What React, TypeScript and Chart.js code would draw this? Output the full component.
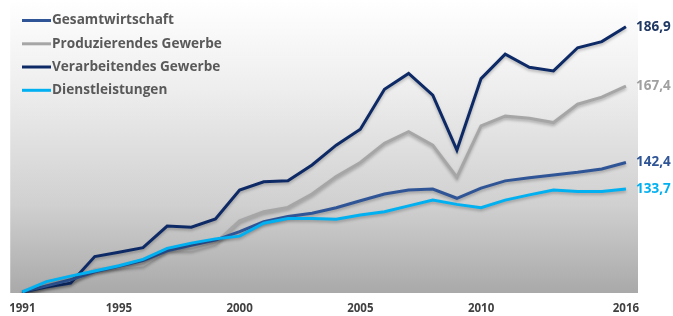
import React, { useEffect, useRef } from "react";
import { Chart, registerables } from "chart.js";
Chart.register(...registerables);

const years = ["1991","1992","1993","1994","1995","1996","1997","1998","1999","2000","2001","2002","2003","2004","2005","2006","2007","2008","2009","2010","2011","2012","2013","2014","2015","2016"];
const tickYears = ["1991","1995","2000","2005","2010","2016"];

const gesamt = [100, 102.0, 104.0, 106.6, 108.4, 110.3, 113.5, 115.3, 117.0, 119.8, 123.0, 124.7, 125.8, 127.6, 129.9, 132.1, 133.4, 133.7, 130.7, 134.0, 136.4, 137.4, 138.3, 139.2, 140.3, 142.4];
const produz = [100, 101.8, 103.2, 107.4, 108.1, 108.8, 113.8, 113.8, 116.0, 123.3, 126.3, 127.7, 132.1, 137.8, 142.4, 148.7, 152.5, 148.1, 137.6, 154.4, 157.6, 156.9, 155.5, 161.5, 163.8, 167.4];
const verarb = [100, 101.6, 102.9, 111.6, 113.0, 114.5, 121.6, 121.2, 123.9, 133.4, 136.1, 136.4, 141.6, 148.1, 153.3, 166.4, 171.6, 164.5, 146.5, 169.9, 177.9, 173.6, 172.4, 180.0, 182.0, 186.9];
const dienst = [100, 103.4, 105.2, 106.9, 108.6, 110.7, 114.3, 116.0, 117.4, 118.3, 122.5, 124.1, 124.1, 123.8, 125.2, 126.3, 128.2, 130.1, 128.7, 127.6, 130.1, 131.8, 133.4, 132.9, 132.9, 133.7];

const seriesNames = ["Gesamtwirtschaft", "Produzierendes Gewerbe", "Verarbeitendes Gewerbe", "Dienstleistungen"];
const seriesColors = ["#2F5597", "#A6A6A6", "#0D2A66", "#00B0F0"];
const labelColors = ["#2F5597", "#A0A0A0", "#1F3864", "#00B0F0"];

const FONT = "'Open Sans', Lato, sans-serif";

const bgPlugin = {
  id: "bgGrad",
  beforeDraw(chart: any) {
    const { ctx, chartArea } = chart;
    const g = ctx.createLinearGradient(0, chartArea.top, 0, chartArea.bottom);
    g.addColorStop(0, "#ffffff");
    g.addColorStop(0.3, "#eeeeee");
    g.addColorStop(0.7, "#d0d0d0");
    g.addColorStop(1, "#a9a9a9");
    ctx.save();
    ctx.fillStyle = g;
    ctx.fillRect(chartArea.left, chartArea.top, chartArea.right - chartArea.left, chartArea.bottom - chartArea.top);
    ctx.restore();
  },
  beforeDatasetsDraw(chart: any) {
    const ctx = chart.ctx;
    ctx.save();
    ctx.shadowColor = "rgba(0,0,0,0.25)";
    ctx.shadowBlur = 3;
    ctx.shadowOffsetY = 2;
  },
  afterDatasetsDraw(chart: any) {
    chart.ctx.restore();
  },
  afterDraw(chart: any) {
    const { ctx } = chart;
    const yScale = chart.scales.y;
    ctx.save();
    ctx.font = `bold 13.6px ${FONT}`;
    ctx.textBaseline = "middle";
    ctx.textAlign = "left";
    const rows = [20.5, 43.8, 67, 90.3];
    seriesNames.forEach((name, i) => {
      ctx.strokeStyle = seriesColors[i];
      ctx.lineWidth = 3;
      ctx.beginPath();
      ctx.moveTo(22, rows[i]);
      ctx.lineTo(51, rows[i]);
      ctx.stroke();
      ctx.fillStyle = "#595959";
      ctx.fillText(name, 52, rows[i]);
    });
    const all = [gesamt, produz, verarb, dienst];
    ctx.font = `bold 13.5px ${FONT}`;
    all.forEach((arr, i) => {
      const v = arr[arr.length - 1];
      const y = yScale.getPixelForValue(v);
      ctx.fillStyle = labelColors[i];
      ctx.fillText(v.toFixed(1).replace(".", ","), 636, y);
    });
    ctx.restore();
  },
};

export default function App() {
  const ref = useRef<HTMLCanvasElement>(null);
  useEffect(() => {
    if (!ref.current) return;
    const mk = (label: string, data: number[], color: string, order: number) => ({
      label, data, borderColor: color, backgroundColor: color, borderWidth: 3,
      pointRadius: 0, tension: 0, fill: false, order,
    });
    const chart = new Chart(ref.current, {
      type: "line",
      data: {
        labels: years,
        datasets: [
          mk(seriesNames[0], gesamt, seriesColors[0], 1),
          mk(seriesNames[1], produz, seriesColors[1], 3),
          mk(seriesNames[2], verarb, seriesColors[2], 2),
          mk(seriesNames[3], dienst, seriesColors[3], 0),
        ],
      },
      options: {
        animation: false,
        responsive: false,
        layout: { padding: { left: 8, right: 35, top: 0, bottom: 0 } },
        plugins: { legend: { display: false }, tooltip: { enabled: false } },
        scales: {
          x: {
            type: "category",
            offset: true,
            grid: { display: false, drawTicks: false },
            border: { display: false },
            ticks: {
              autoSkip: false,
              maxRotation: 0,
              padding: 9,
              color: "#404040",
              font: { family: FONT, size: 11.5, weight: "bold" },
              callback: (_v: any, idx: number) => (tickYears.includes(years[idx]) ? years[idx] : ""),
            },
            afterFit: (s: any) => { s.height = 23; },
          },
          y: { display: false, min: 99.67, max: 195.64 },
        },
      } as any,
      plugins: [bgPlugin],
    });
    return () => chart.destroy();
  }, []);
  return (
    <div style={{ position: "fixed", left: 0, top: 0, width: 673, height: 316, background: "#fff" }}>
      <canvas ref={ref} width={673} height={316} style={{ display: "block" }} />
    </div>
  );
}
